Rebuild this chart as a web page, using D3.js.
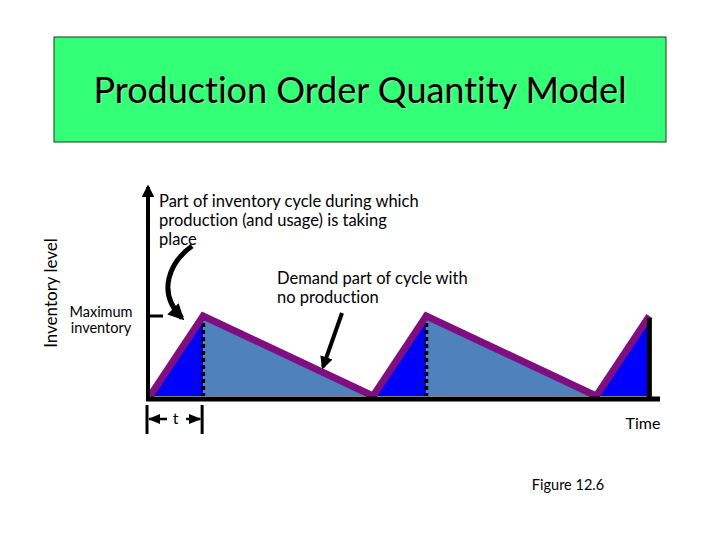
<!DOCTYPE html>
<html>
<head>
<meta charset="utf-8">
<script src="https://cdn.jsdelivr.net/npm/d3@7"></script>
<style>
  body { margin: 0; background: #fff; }
  text { font-family: Lato, "Open Sans", sans-serif; fill: #000; font-variant-ligatures: none; }
</style>
</head>
<body>
<div id="chart"></div>
<script>
// cycle data (time units, inventory level as share of maximum)
const cycleTimes = [0, 1, 4.2, 5.2, 8.4, 9.4];
const inventoryLevels = [0, 1, 0, 1, 0, 1];
const productionPhases = [[0, 1], [4.2, 5.2], [8.4, 9.4]];
const demandPhases = [[1, 4.2], [5.2, 8.4]];
const timeEnd = 9.6;
const levelTop = 2.62;

const titleText = "Production Order Quantity Model";
const yLabel = "Inventory level";
const xLabel = "Time";
const maxLabel = ["Maximum", "inventory"];
const noteProduction = ["Part of inventory cycle during which", "production (and usage) is taking", "place"];
const noteDemand = ["Demand part of cycle with", "no production"];
const figLabel = "Figure 12.6";

const width = 720, height = 540;

const svg = d3.select("#chart")
    .append("svg")
    .attr("width", width)
    .attr("height", height);

const defs = svg.append("defs");
defs.append("marker")
    .attr("id", "head")
    .attr("viewBox", "0 0 10 10")
    .attr("refX", 8).attr("refY", 5)
    .attr("markerWidth", 3.2).attr("markerHeight", 3.2)
    .attr("orient", "auto")
    .append("path").attr("d", "M0,0L10,5L0,10z").attr("fill", "#000");
defs.append("marker")
    .attr("id", "small")
    .attr("viewBox", "0 0 10 10")
    .attr("refX", 9).attr("refY", 5)
    .attr("markerWidth", 5).attr("markerHeight", 5)
    .attr("orient", "auto-start-reverse")
    .append("path").attr("d", "M0,1L10,5L0,9z").attr("fill", "#000");

// title box
svg.append("rect")
    .attr("x", 54).attr("y", 37)
    .attr("width", 612).attr("height", 105)
    .attr("fill", "#33ff77")
    .attr("stroke", "#1a3a1a")
    .attr("stroke-width", 1);
svg.append("text")
    .attr("x", 361).attr("y", 104)
    .attr("text-anchor", "middle")
    .style("font-size", "36px")
    .style("fill", "#9adfa6")
    .text(titleText);
svg.append("text")
    .attr("x", 360).attr("y", 103)
    .attr("text-anchor", "middle")
    .style("font-size", "36px")
    .text(titleText);

// scales
const x = d3.scaleLinear().domain([0, timeEnd]).range([150, 660]);
const y = d3.scaleLinear().domain([0, 1]).range([396, 316]);

// production triangles (blue) and demand triangles (steel blue)
const area = d3.area().x(d => x(d[0])).y0(y(0)).y1(d => y(d[1]));
svg.selectAll(".prod")
    .data(productionPhases)
    .enter()
    .append("path")
    .attr("class", "prod")
    .attr("d", d => area([[d[0], 0], [d[1], 1]]))
    .attr("fill", "#0000ff");
svg.selectAll(".dem")
    .data(demandPhases)
    .enter()
    .append("path")
    .attr("class", "dem")
    .attr("d", d => area([[d[0], 1], [d[1], 0]]))
    .attr("fill", "#4f81bd");

// dotted peak markers
svg.selectAll(".peak")
    .data(demandPhases)
    .enter()
    .append("line")
    .attr("x1", d => x(d[0])).attr("x2", d => x(d[0]))
    .attr("y1", y(1)).attr("y2", y(0))
    .attr("stroke", "#000")
    .attr("stroke-width", 4)
    .attr("stroke-dasharray", "4,3");

// inventory line
const line = d3.line().x(d => x(d[0])).y(d => y(d[1]));
svg.append("path")
    .datum(cycleTimes.map((t, i) => [t, inventoryLevels[i]]))
    .attr("d", line)
    .attr("fill", "none")
    .attr("stroke", "#7f0f80")
    .attr("stroke-width", 7)
    .attr("stroke-linejoin", "miter");

// closing edge at last peak
const lastT = cycleTimes[cycleTimes.length - 1];
svg.append("line")
    .attr("x1", x(lastT)).attr("x2", x(lastT))
    .attr("y1", y(1) + 2).attr("y2", y(0) + 2)
    .attr("stroke", "#000")
    .attr("stroke-width", 5);

// axes
const yTop = d3.scaleLinear().domain([0, levelTop]).range([399, 183]);
svg.append("line")
    .attr("x1", 148).attr("x2", 148)
    .attr("y1", 399).attr("y2", yTop(levelTop) + 4)
    .attr("stroke", "#000")
    .attr("stroke-width", 4)
    .attr("marker-end", "url(#head)");
svg.append("line")
    .attr("x1", 146).attr("x2", x(timeEnd))
    .attr("y1", 399).attr("y2", 399)
    .attr("stroke", "#000")
    .attr("stroke-width", 5);
svg.append("line")
    .attr("x1", 148).attr("x2", 163)
    .attr("y1", y(1)).attr("y2", y(1))
    .attr("stroke", "#000")
    .attr("stroke-width", 3);

// t marker
const t0 = productionPhases[0][0], t1 = productionPhases[0][1];
[x(t0) - 3, x(t1) - 1].forEach(px => {
    svg.append("line")
        .attr("x1", px).attr("x2", px)
        .attr("y1", 405).attr("y2", 434)
        .attr("stroke", "#000").attr("stroke-width", 3);
});
[[x(t0) + 17, x(t0) - 1], [x(t1) - 17, x(t1) - 3]].forEach(p => {
    svg.append("line")
        .attr("x1", p[0]).attr("x2", p[1])
        .attr("y1", 419).attr("y2", 419)
        .attr("stroke", "#000").attr("stroke-width", 2.5)
        .attr("marker-end", "url(#small)");
});
svg.append("text")
    .attr("x", (x(t0) + x(t1)) / 2 - 1).attr("y", 424)
    .attr("text-anchor", "middle")
    .style("font-size", "16px")
    .text("t");

// labels
svg.append("text")
    .attr("transform", "translate(57,293) rotate(-90)")
    .attr("text-anchor", "middle")
    .style("font-size", "17px")
    .text(yLabel);
svg.append("text")
    .attr("x", 643).attr("y", 429)
    .attr("text-anchor", "middle")
    .style("font-size", "16px")
    .text(xLabel);
svg.selectAll(".maxl")
    .data(maxLabel)
    .enter()
    .append("text")
    .attr("x", 101).attr("y", (d, i) => 317 + i * 16)
    .attr("text-anchor", "middle")
    .style("font-size", "14.5px")
    .text(d => d);
svg.selectAll(".np")
    .data(noteProduction)
    .enter()
    .append("text")
    .attr("x", 159).attr("y", (d, i) => 207 + i * 19)
    .style("font-size", "16.5px")
    .text(d => d);
svg.selectAll(".nd")
    .data(noteDemand)
    .enter()
    .append("text")
    .attr("x", 277).attr("y", (d, i) => 284 + i * 19)
    .style("font-size", "16.5px")
    .text(d => d);
svg.append("text")
    .attr("x", 568).attr("y", 490)
    .attr("text-anchor", "middle")
    .style("font-size", "14.5px")
    .text(figLabel);

// pointer arrows
svg.append("path")
    .attr("d", "M192,246 C170,262 156,292 182,318")
    .attr("fill", "none")
    .attr("stroke", "#000")
    .attr("stroke-width", 5)
    .attr("marker-end", "url(#head)");
svg.append("line")
    .attr("x1", 342).attr("x2", 323)
    .attr("y1", 313).attr("y2", 367)
    .attr("stroke", "#000")
    .attr("stroke-width", 4)
    .attr("marker-end", "url(#head)");
</script>
</body>
</html>
